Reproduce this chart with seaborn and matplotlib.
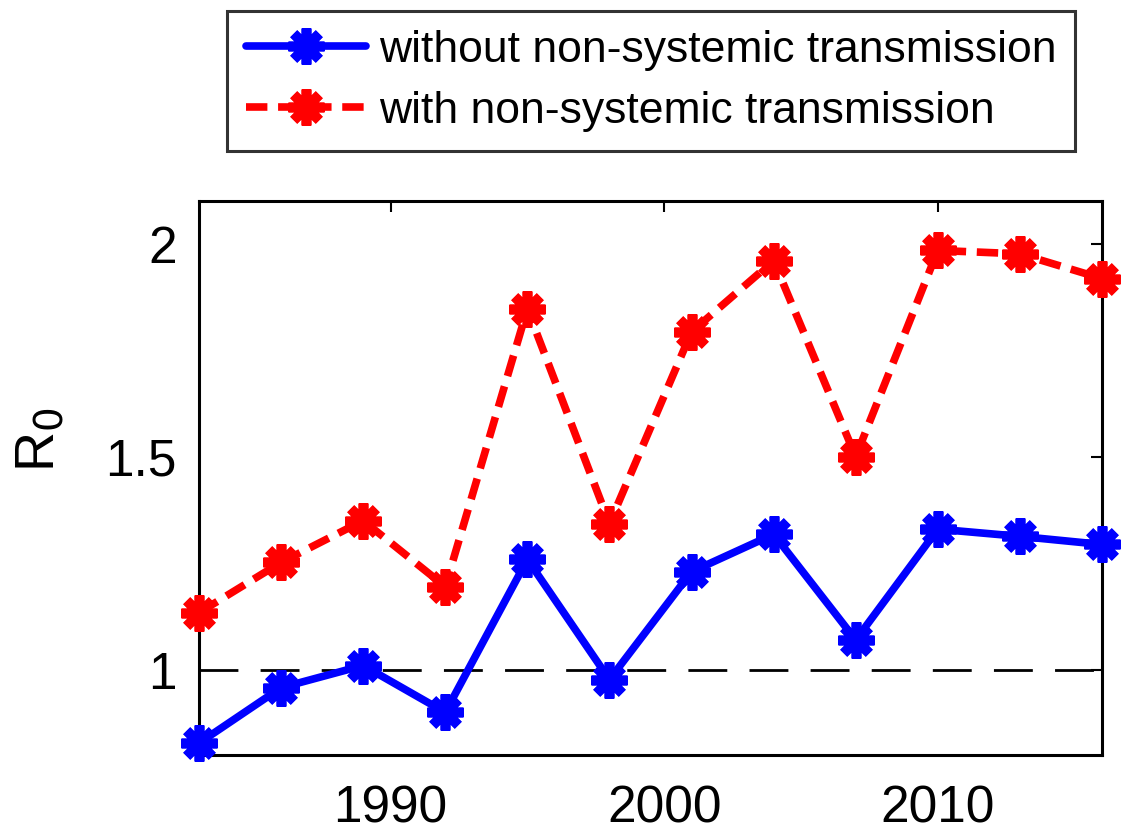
import numpy as np
import pandas as pd
import matplotlib
matplotlib.use("Agg")
import matplotlib.pyplot as plt
import seaborn as sns
from matplotlib.lines import Line2D

years = [1983, 1986, 1989, 1992, 1995, 1998, 2001, 2004, 2007, 2010, 2013, 2016]
r0_without = [0.828, 0.958, 1.010, 0.900, 1.259, 0.977, 1.230, 1.318, 1.070, 1.330, 1.313, 1.294]
r0_with = [1.134, 1.252, 1.350, 1.195, 1.847, 1.343, 1.793, 1.960, 1.500, 1.984, 1.976, 1.918]
labels = ["without non-systemic transmission", "with non-systemic transmission"]
x_ticks = [1990, 2000, 2010]
y_ticks = [1, 1.5, 2]

sns.set_theme(style="white")
plt.rcParams['font.family'] = ['Liberation Sans', 'DejaVu Sans']
plt.rcParams['text.color'] = 'black'
plt.rcParams['axes.labelcolor'] = 'black'

df = pd.DataFrame({
    "year": years * 2,
    "R0": r0_without + r0_with,
    "series": [labels[0]] * len(years) + [labels[1]] * len(years),
})

BLUE, RED = "#0000ff", "#ff0000"
MK = (8, 2, 0)
MS, MEW, LW = 26, 7, 5.5
RED_DASH = (2.8, 1.4)

fig = plt.figure(figsize=(11.29, 8.34), dpi=100)
ax = fig.add_axes([199/1129, 1 - 755/834, 903/1129, 554/834])

ax.axhline(1, color="black", lw=2, dashes=(14, 8), zorder=1)

sns.lineplot(data=df, x="year", y="R0", hue="series", style="series",
             palette={labels[0]: BLUE, labels[1]: RED},
             dashes={labels[0]: "", labels[1]: RED_DASH},
             markers={labels[0]: MK, labels[1]: MK},
             markersize=MS, markeredgewidth=MEW, lw=LW, ax=ax, legend=False,
             zorder=3)
for ln, c in zip(ax.get_lines()[1:], [BLUE, RED]):
    ln.set_markeredgecolor(c)
    ln.set_clip_on(False)

ax.set_xlim(1983, 2016)
ax.set_ylim(0.8, 2.1)
ax.set_xticks(x_ticks)
ax.set_yticks(y_ticks)
ax.set_yticklabels(["1", "1.5", "2"])
ax.set_xlabel("")
ax.tick_params(axis="both", which="both", direction="in", length=8, width=1.5,
               labelsize=37, top=True, right=True, colors="black")
ax.tick_params(axis="x", pad=21)
ax.tick_params(axis="y", pad=16)
ax.set_ylabel(r"R$_0$", fontsize=40, color="black")
ax.yaxis.set_label_coords(-0.148, 0.57)
for s in ax.spines.values():
    s.set_visible(True)
    s.set_color("black")
    s.set_linewidth(2.2)

handles = [
    Line2D([], [], color=BLUE, lw=LW, marker=MK, markersize=MS,
           markeredgewidth=MEW, markeredgecolor=BLUE),
    Line2D([], [], color=RED, lw=LW, dashes=RED_DASH, marker=MK,
           markersize=MS, markeredgewidth=MEW, markeredgecolor=RED),
]
leg = fig.legend(handles, labels, loc="center", bbox_to_anchor=(651/1129, 1 - 81/834),
                 fontsize=32, frameon=True, fancybox=False, edgecolor="black",
                 handlelength=2.7, handletextpad=0.3, borderpad=0.42,
                 labelspacing=0.45, borderaxespad=0, labelcolor="black")
leg.get_frame().set_linewidth(2.2)

fig.savefig("out.png", dpi=100)
